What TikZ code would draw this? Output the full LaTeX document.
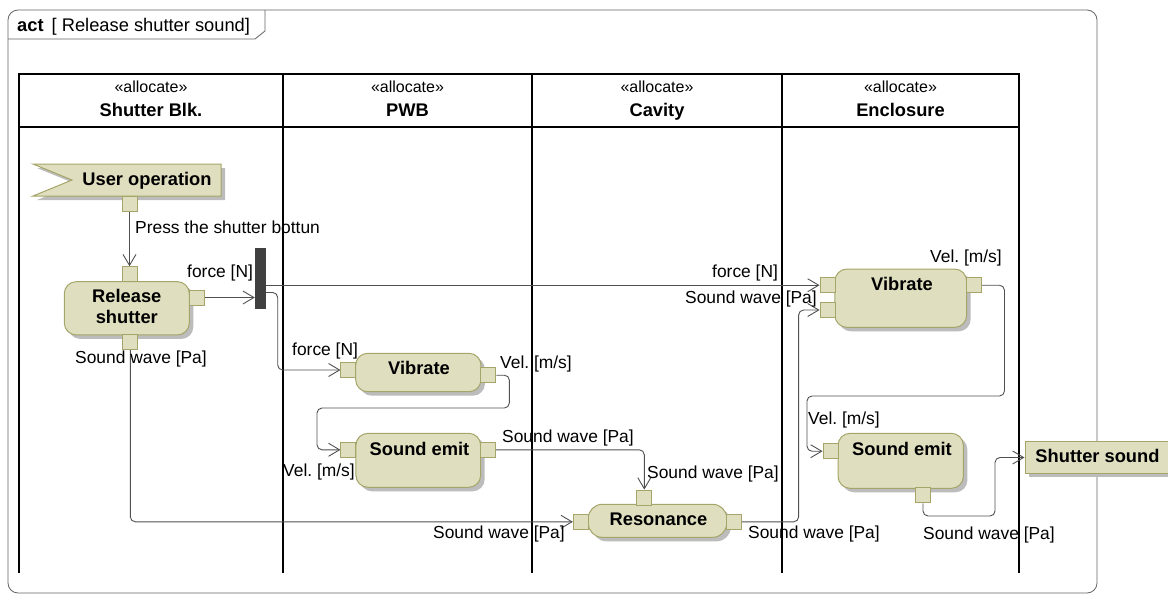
\documentclass[tikz,border=0pt]{standalone}
\usepackage{fontspec}
\setmainfont{Liberation Sans}
\usetikzlibrary{arrows.meta,calc,shadows}
\frenchspacing

\definecolor{actfill}{RGB}{223,223,192}
\definecolor{actline}{RGB}{165,165,105}
\definecolor{connline}{RGB}{80,80,80}
\definecolor{framegray}{RGB}{100,100,100}
\definecolor{barfill}{RGB}{64,64,64}
\definecolor{shadowgray}{RGB}{188,188,188}

\pgfdeclarelayer{bg}
\pgfsetlayers{bg,main}

\tikzset{
  lbl/.style={font=\fontsize{17.4}{20}\selectfont, inner sep=0, anchor=base west},
  nodetext/.style={font=\fontsize{18.3}{21}\selectfont\bfseries, inner sep=0, anchor=base},
  stereo/.style={font=\fontsize{16}{19}\selectfont, inner sep=0, anchor=base},
  lanename/.style={font=\fontsize{18.3}{21}\selectfont\bfseries, inner sep=0, anchor=base},
  shade/.style={general shadow={fill=shadowgray, shadow xshift=4pt, shadow yshift=-4pt}},
  action/.style={draw=actline, fill=actfill, rounded corners=12pt, inner sep=0, line width=1pt, shade},
  objnode/.style={draw=actline, fill=actfill, inner sep=0, line width=1pt, shade},
  pin/.style={draw=actline, fill=actfill, minimum size=15pt, inner sep=0, line width=0.9pt},
  conn/.style={draw=connline, line width=0.9pt, rounded corners=5pt,
    -{Straight Barb[length=11pt,width=13pt]}},
  lane/.style={line width=2pt, draw=black},
  framestyle/.style={draw=framegray, line width=0.8pt},
}

\begin{document}
\begin{tikzpicture}[x=1pt,y=-1pt]
\useasboundingbox (0,0) rectangle (1168,595);

% ---- activity frame and its name tab
\begin{pgfonlayer}{bg}
\draw[framestyle, rounded corners=10pt] (8,10) rectangle (1097,593);
\draw[framestyle] (8,39) -- (255,39) -- (265,31) -- (265,10);
\end{pgfonlayer}
\node[anchor=base west, inner sep=0, font=\fontsize{18.3}{21}\selectfont] (title) at (17,31.7)
  {\textbf{act}\hspace{8pt}[ Release shutter sound]};

% ---- swimlanes
\begin{pgfonlayer}{bg}
\draw[lane] (19,74) rectangle (1019,127);
\foreach \lx in {19,283,532,782,1019} \draw[lane] (\lx,74) -- (\lx,573);
\end{pgfonlayer}
\node[stereo] (st1) at (151,92.3) {«allocate»};
\node[stereo] (st2) at (407.5,92.3) {«allocate»};
\node[stereo] (st3) at (657,92.3) {«allocate»};
\node[stereo] (st4) at (900.5,92.3) {«allocate»};
\node[lanename] (ln1) at (151,116.7) {Shutter Blk.};
\node[lanename] (ln2) at (407.5,116.7) {PWB};
\node[lanename] (ln3) at (657,116.7) {Cavity};
\node[lanename] (ln4) at (900.5,116.7) {Enclosure};

% ---- accept event action
\path[fill=shadowgray, shift={(4,4)}] (33,164) -- (221,164) -- (221,196) -- (33,196) -- (72,180) -- cycle;
\path[draw=actline, fill=actfill, line width=1pt] (33,164) -- (221,164) -- (221,196) -- (33,196) -- (72,180) -- cycle;
\node[nodetext] (uo) at (147,185) {User operation};

% ---- actions
\node[action, minimum width=125pt, minimum height=53.3pt] (rs) at (126.8,308.3) {};
\node[nodetext] (rs-t1) at (126.8,302.7) {Release};
\node[nodetext] (rs-t2) at (126.8,323.3) {shutter};

\node[action, minimum width=125.3pt, minimum height=38.4pt] (v1) at (418.3,372.5) {};
\node[nodetext] (v1-t) at (419,374) {Vibrate};

\node[action, minimum width=124.7pt, minimum height=54pt] (se1) at (418.3,460.3) {};
\node[nodetext] (se1-t) at (419.5,455) {Sound emit};

\node[action, rounded corners=14pt, minimum width=138.4pt, minimum height=33pt] (res) at (657.5,520.8) {};
\node[nodetext] (res-t) at (658.5,525) {Resonance};

\node[action, minimum width=131.7pt, minimum height=58.3pt] (v2) at (900.8,298.2) {};
\node[nodetext] (v2-t) at (902,290) {Vibrate};

\node[action, minimum width=125.3pt, minimum height=55pt] (se2) at (900.7,460.8) {};
\node[nodetext] (se2-t) at (902,455) {Sound emit};

\node[objnode, minimum width=143pt, minimum height=31.6pt] (ss) at (1096.5,457.5) {};
\node[nodetext] (ss-t) at (1097.5,462.7) {Shutter sound};

% ---- fork bar
\node[fill=barfill, minimum width=11pt, minimum height=61pt, inner sep=0] (fork) at (260.5,278.5) {};

% ---- pins
\node[pin] (p-uo-out) at (129.5,204) {};
\node[pin] (p-rs-in) at (129.5,274.2) {};
\node[pin] (p-rs-out) at (196.5,297.5) {};
\node[pin] (p-rs-bot) at (130.3,342) {};
\node[pin] (p-v1-in) at (348.4,370) {};
\node[pin] (p-v1-out) at (488.4,375.2) {};
\node[pin] (p-se1-in) at (348.4,449.8) {};
\node[pin] (p-se1-out) at (488.2,449.8) {};
\node[pin] (p-res-top) at (644.3,497.5) {};
\node[pin] (p-res-in) at (580.8,521.8) {};
\node[pin] (p-res-out) at (734.2,521.8) {};
\node[pin] (p-v2-in1) at (827.5,285.2) {};
\node[pin] (p-v2-in2) at (827.5,310) {};
\node[pin] (p-v2-out) at (974.2,285.2) {};
\node[pin] (p-se2-in) at (830.5,451.2) {};
\node[pin] (p-se2-out) at (923,495.3) {};

% ---- object flows
\begin{pgfonlayer}{bg}
\draw[conn] (p-uo-out.south) -- (p-rs-in.north);
\draw[conn] (p-rs-out.east) -- (fork.west |- p-rs-out.east);
\draw[conn] (fork.east |- p-v2-in1.west) -- (p-v2-in1.west);
\draw[conn] ($(fork.east)+(0,14)$) -- ++(11.5,0) |- (p-v1-in.west);
\draw[conn] (p-v1-out.east) -- ++(13,0) |- (317,408) |- (p-se1-in.west);
\draw[conn] (p-se1-out.east) -| (p-res-top.north);
\draw[conn] (p-rs-bot.south) |- (p-res-in.west);
\draw[conn] (p-res-out.east) -- ++(56.5,0) |- (p-v2-in2.west);
\draw[conn] (p-v2-out.east) -- ++(22.3,0) |- (807,396) |- (p-se2-in.west);
\draw[conn] (p-se2-out.south) |- (995,516) |- (ss.west);
\end{pgfonlayer}

% ---- pin labels
\node[lbl] (l1) at (135,233) {Press the shutter bottun};
\node[lbl] (l2) at (187,277) {force [N]};
\node[lbl] (l3) at (75,363) {Sound wave [Pa]};
\node[lbl] (l4) at (292,355) {force [N]};
\node[lbl] (l5) at (500,368) {Vel. [m/s]};
\node[lbl] (l6) at (283,476) {Vel. [m/s]};
\node[lbl] (l7) at (502,442) {Sound wave [Pa]};
\node[lbl] (l8) at (433,538) {Sound wave [Pa]};
\node[lbl] (l9) at (647,478) {Sound wave [Pa]};
\node[lbl] (l10) at (748,538) {Sound wave [Pa]};
\node[lbl] (l11) at (712,277) {force [N]};
\node[lbl] (l12) at (685,303) {Sound wave [Pa]};
\node[lbl] (l13) at (930,262) {Vel. [m/s]};
\node[lbl] (l14) at (808,424) {Vel. [m/s]};
\node[lbl] (l15) at (923,539) {Sound wave [Pa]};
\end{tikzpicture}
\end{document}
